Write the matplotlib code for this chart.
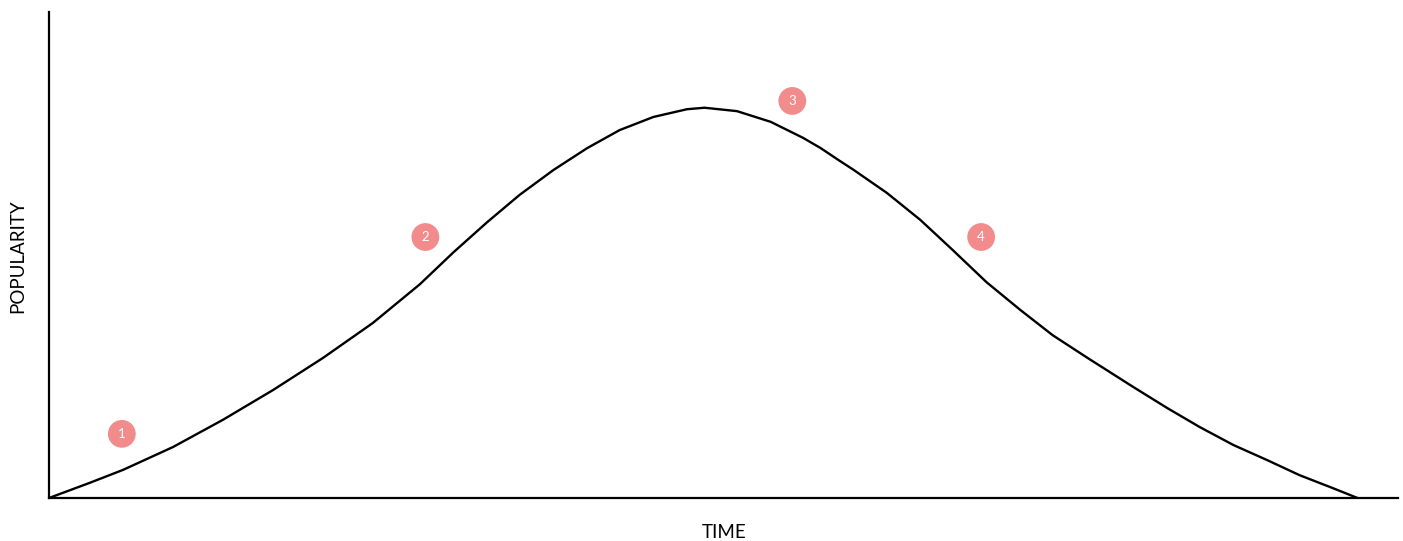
import numpy as np
import matplotlib.pyplot as plt

# curve (time 0-100, popularity 0-100)
time = [0, 3.0, 5.5, 9.2, 12.9, 16.6, 20.3, 24.0, 27.5, 30.0, 32.5,
        34.9, 37.4, 39.9, 42.3, 44.8, 47.3, 48.6, 51.0, 53.5, 55.9, 57.2,
        58.6, 59.6, 62.1, 64.6, 67.0, 69.5, 72.0, 74.4, 77.0, 80.4,
        82.9, 85.3, 87.8, 90.3, 92.7, 95.2, 97.0]
popularity = [0, 3.1, 5.8, 10.5, 16.1, 22.2, 28.8, 36.0, 44.0, 50.6, 56.8,
              62.4, 67.5, 72.0, 75.7, 78.4, 80.0, 80.3, 79.6, 77.4, 74.1, 72.0,
              69.4, 67.6, 62.8, 57.2, 51.0, 44.4, 38.7, 33.5, 28.8, 22.8,
              18.5, 14.6, 10.9, 7.8, 4.7, 2.0, 0]

# numbered stage markers
stage_x = [5.4, 27.9, 55.1, 69.1]
stage_y = [13.2, 53.7, 81.7, 53.7]
stage_labels = ["1", "2", "3", "4"]

plt.rcParams['font.family'] = ['Lato', 'DejaVu Sans']

fig = plt.figure(figsize=(14.03, 5.41), dpi=100)
ax = fig.add_axes([49 / 1403, 43 / 541, 1349 / 1403, 486 / 541])

ax.plot(time, popularity, color='black', lw=1.7, solid_joinstyle='round',
        solid_capstyle='round')
ax.scatter(stage_x, stage_y, s=400, color='#f28b8b', edgecolors='none', zorder=3)
for x, y, lab in zip(stage_x, stage_y, stage_labels):
    ax.text(x, y, lab, color='white', fontsize=9.5, ha='center', va='center', zorder=4)

ax.set_xlim(0, 100)
ax.set_ylim(0, 100)
ax.set_xticks([])
ax.set_yticks([])
ax.spines['top'].set_visible(False)
ax.spines['right'].set_visible(False)
ax.spines['left'].set_linewidth(1.6)
ax.spines['bottom'].set_linewidth(1.6)

fig.text(724 / 1403, 1 - 532 / 541, "TIME", fontsize=13.5, ha='center', va='center')
fig.text(18 / 1403, 1 - 256 / 541, "POPULARITY", fontsize=13.5, ha='center', va='center',
         rotation=90)

fig.savefig('out.png', dpi=100, facecolor='white')
